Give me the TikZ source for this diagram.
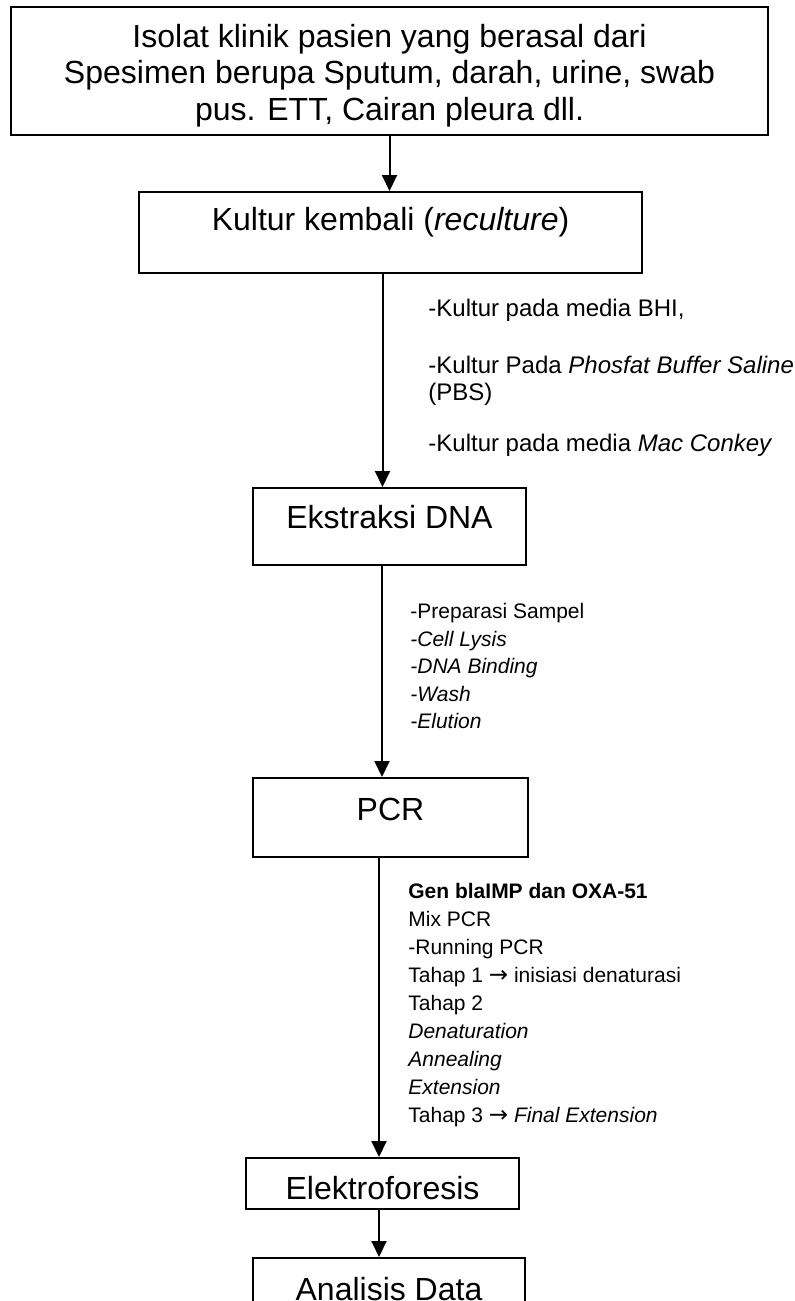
\documentclass[tikz,border=0pt]{standalone}
\usepackage{fontspec}
\setmainfont{Liberation Sans}
\newfontfamily\panahfont{DejaVu Sans}
\usetikzlibrary{arrows.meta,positioning,calc}

\newcommand{\ke}{{\panahfont\fontsize{11.5}{14}\selectfont →}}

\begin{document}
\begin{tikzpicture}[x=0.5pt,y=-0.5pt,
  kotak/.style={draw,line width=1pt,inner sep=0pt,align=center,
    font=\fontsize{16}{18.25}\selectfont},
  panah/.style={line width=1pt,-{Triangle[length=8pt,width=7.5pt]}},
  ket/.style={anchor=north west,inner sep=0pt,align=left}]
\useasboundingbox (0,0) rectangle (795,1301);

% Isolat
\node[kotak,minimum width=378.5pt,minimum height=64pt,text height=52pt,text depth=3pt]
  (isolat) at (389.5,71)
  {Isolat klinik pasien yang berasal dari\\Spesimen berupa Sputum, darah, urine, swab\\pus. ETT, Cairan pleura dll.};

% Kultur
\node[kotak,minimum width=251.5pt,minimum height=40.5pt,text height=16pt,text depth=18.5pt]
  (kultur) at (390.5,232.5) {Kultur kembali (\textit{reculture})};
\node[ket,font=\fontsize{12}{13.5}\selectfont] (media) at (428,299)
  {-Kultur pada media BHI,\\[15pt]%
   -Kultur Pada \textit{Phosfat Buffer Saline}\\%
   (PBS)\\[12pt]%
   -Kultur pada media \textit{Mac Conkey}};

% Ekstraksi
\node[kotak,minimum width=136.5pt,minimum height=38.5pt,text height=16pt,text depth=14.5pt]
  (ekstraksi) at (389.5,526.5) {Ekstraksi DNA};
\node[ket,font=\fontsize{10.5}{13.75}\selectfont] (tahapdna) at (410,603)
  {-Preparasi Sampel\\%
   \textit{-Cell Lysis}\\%
   \textit{-DNA Binding}\\%
   \textit{-Wash}\\%
   \textit{-Elution}};

% PCR
\node[kotak,minimum width=137.5pt,minimum height=39.5pt,text height=16pt,text depth=13.5pt]
  (pcr) at (390.5,817.5) {PCR};
\node[ket,font=\fontsize{10.5}{14}\selectfont] (tahappcr) at (408,883)
  {\textbf{Gen blaIMP dan OXA-51}\\%
   Mix PCR\\%
   -Running PCR\\%
   Tahap 1 \ke{} inisiasi denaturasi\\%
   Tahap 2\\%
   \textit{Denaturation}\\%
   \textit{Annealing}\\%
   \textit{Extension}\\%
   Tahap 3 \ke{} \textit{Final Extension}};

% Elektroforesis dan analisis
\node[kotak,minimum width=136.5pt,minimum height=25.5pt,text height=16pt,text depth=0.5pt]
  (elektro) at (382.5,1183.5) {Elektroforesis};
\node[kotak,minimum width=136pt,minimum height=30pt,text height=16pt,text depth=4pt]
  (analisis) at (389,1288) {Analisis Data};

% Panah
\draw[panah] (isolat.south) -- (isolat.south |- kultur.north);
\draw[panah] ([xshift=-4pt]kultur.south) -- ([xshift=-4pt]kultur.south |- ekstraksi.north);
\draw[panah] ([xshift=-3.75pt]ekstraksi.south) -- ([xshift=-3.75pt]ekstraksi.south |- pcr.north);
\draw[panah] ([xshift=-5.75pt]pcr.south) -- ([xshift=-5.75pt]pcr.south |- elektro.north);
\draw[panah] ([xshift=-1.75pt]elektro.south) -- ([xshift=-1.75pt]elektro.south |- analisis.north);
\end{tikzpicture}
\end{document}
